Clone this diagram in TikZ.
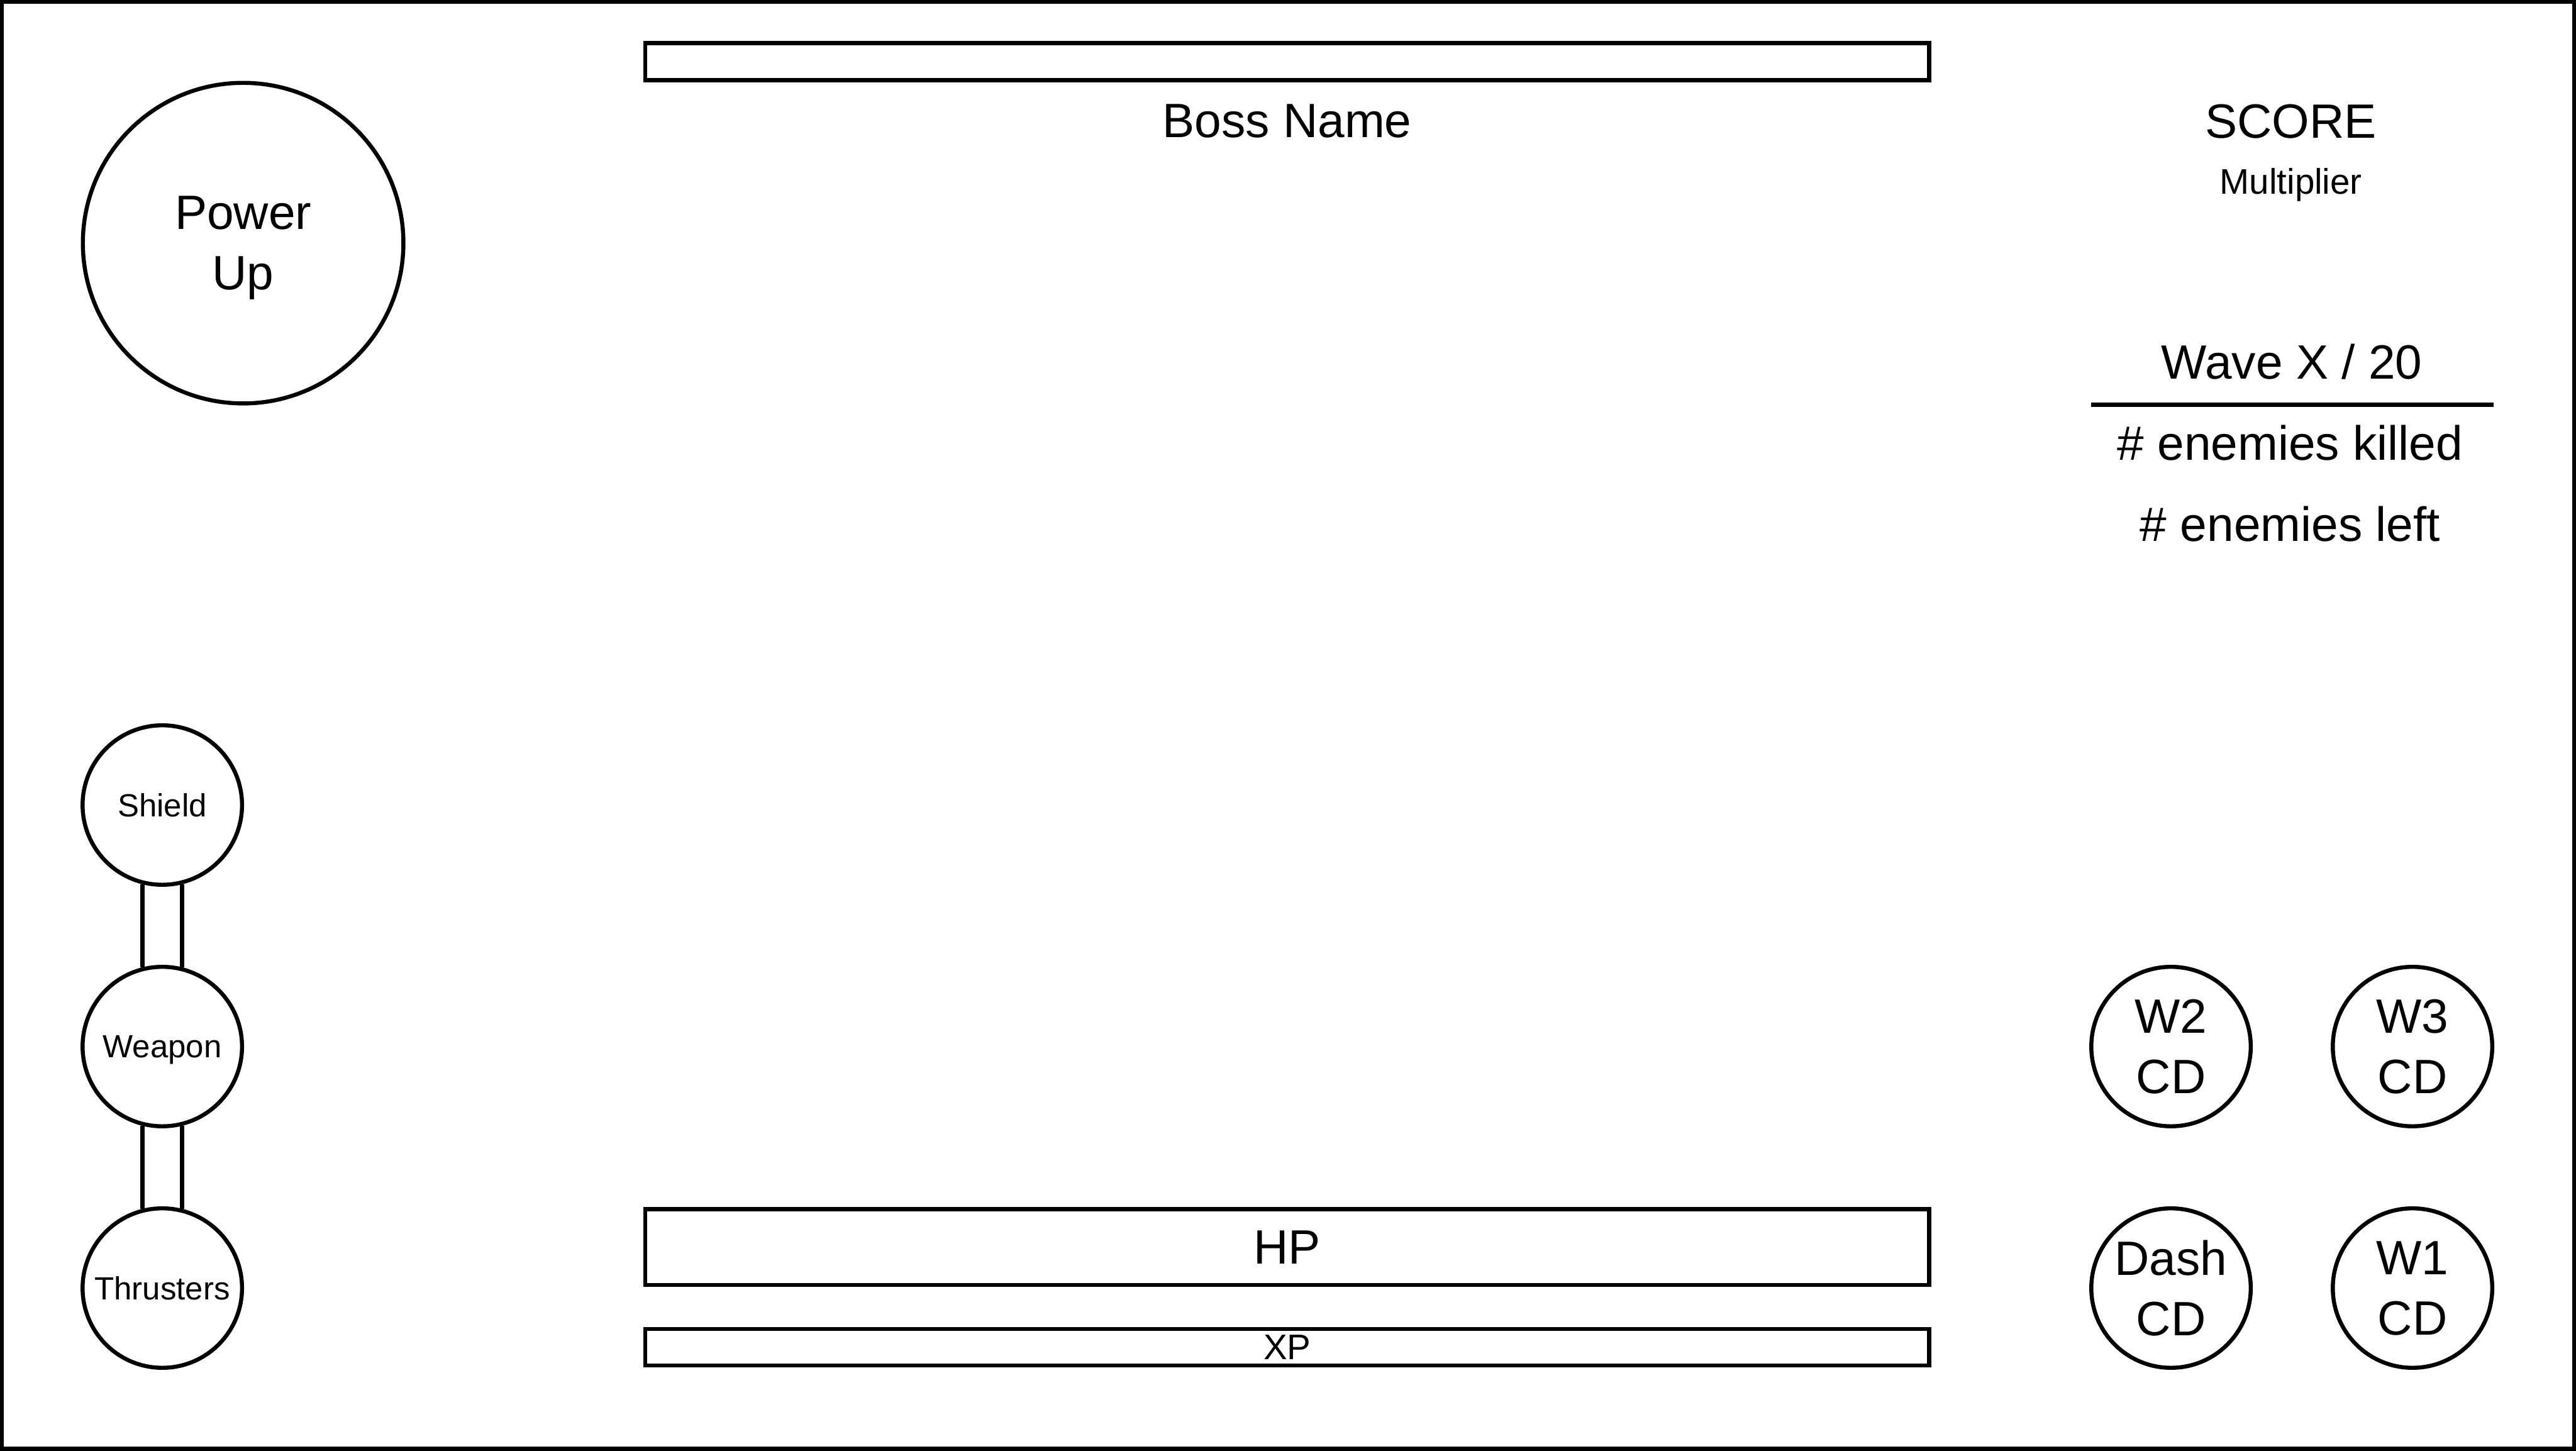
\documentclass[tikz,border=0pt]{standalone}
\usepackage{fontspec}
\setmainfont{Liberation Sans}
\begin{document}
\begin{tikzpicture}[x=0.01cm,y=-0.01cm,
  ln/.style={line width=0.7pt},
  bar/.style={draw, ln, rectangle, inner sep=0pt, minimum width=7.81cm},
  ring/.style={draw, ln, circle, inner sep=0pt, align=center, text depth=0pt},
  big/.style={font=\fontsize{8.34pt}{10.44pt}\selectfont},
  mid/.style={font=\fontsize{6.15pt}{7.4pt}\selectfont},
  small/.style={font=\fontsize{5.55pt}{6.7pt}\selectfont},
  txt/.style={inner sep=0pt, anchor=base}]
\useasboundingbox (0,0) rectangle (1568,883);
\draw[ln] (1.25,1.25) rectangle (1566.75,881.75);
% top boss bar
\node[bar, minimum height=0.226cm] (bossbar) at (783.5,37.5) {};
\node[txt, big] (bossname) at (783.5,83.5) {Boss Name};
% power up
\node[ring, big, minimum size=1.95cm] (power) at (148,148) {Power\\Up};
% score
\node[txt, big] (score) at (1394.5,84) {SCORE};
\node[txt, mid] (mult) at (1394.5,118) {Multiplier};
% wave info
\node[txt, big] (wave) at (1395,230.5) {Wave X / 20};
\coordinate (wl) at (1273,246.5);
\coordinate (wr) at (1518,246.5);
\draw[line width=0.75pt] (wl) -- (wr);
\node[txt, big] (killed) at (1394,280) {\# enemies killed};
\node[txt, big] (left) at (1394,329.5) {\# enemies left};
% left stack
\node[ring, small, minimum size=0.97cm] (shield) at (98.8,490) {Shield};
\node[ring, small, minimum size=0.97cm] (weapon) at (98.8,637) {Weapon};
\node[ring, small, minimum size=0.97cm] (thr) at (98.8,784) {Thrusters};
\draw[ln] (shield.256) -- (weapon.104);
\draw[ln] (shield.284) -- (weapon.76);
\draw[ln] (weapon.256) -- (thr.104);
\draw[ln] (weapon.284) -- (thr.76);
% bottom bars
\node[bar, big, minimum height=0.46cm] (hp) at (783.5,759) {HP};
\node[bar, mid, minimum height=0.22cm, text depth=-0.3pt] (xp) at (783.5,820) {XP};
% cooldowns
\node[ring, big, minimum size=0.97cm] (w2) at (1321.5,637) {W2\\CD};
\node[ring, big, minimum size=0.97cm] (w3) at (1468.5,637) {W3\\CD};
\node[ring, big, minimum size=0.97cm] (dash) at (1321.5,784) {Dash\\CD};
\node[ring, big, minimum size=0.97cm] (w1) at (1468.5,784) {W1\\CD};
\end{tikzpicture}
\end{document}
